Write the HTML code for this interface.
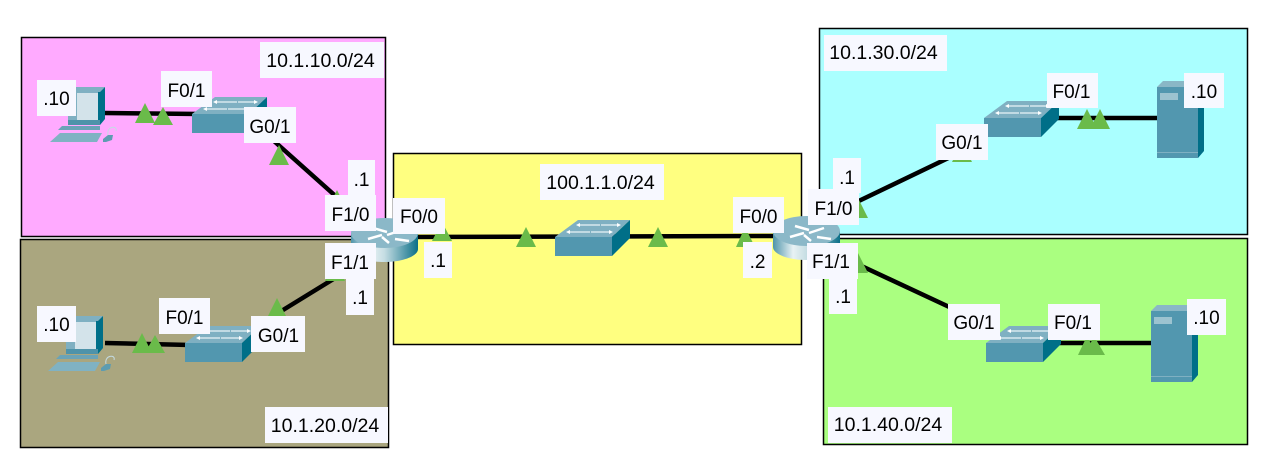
<!DOCTYPE html>
<html>
<head>
<meta charset="utf-8">
<style>
html,body{margin:0;padding:0;background:#fff;width:1270px;height:475px;overflow:hidden}
svg{display:block}
text{font-family:"Liberation Sans",Arial,sans-serif;font-size:19px;fill:#000;text-anchor:middle}
text.w{font-size:19.500px}
.z{stroke:#000;stroke-width:1.5}
.l{stroke:#000;stroke-width:4.5;fill:none}
.t{fill:#6abb4a}
.b{fill:#f7f8ff}
</style>
</head>
<body>
<svg width="1270" height="475" viewBox="0 0 1270 475" xmlns="http://www.w3.org/2000/svg">
<defs>
<linearGradient id="rg" x1="0" x2="1" y1="0" y2="0">
<stop offset="0" stop-color="#4f94aa"/><stop offset=".3" stop-color="#e8f2f4"/><stop offset=".5" stop-color="#c5dde3"/><stop offset="1" stop-color="#0b6f88"/>
</linearGradient>
<g id="sw">
<polygon points="0,17 23,0 75,0 57,17" fill="#7fb0c2"/>
<polygon points="0,17 57,17 57,36 0,36" fill="#5297af"/>
<polygon points="57,17 75,0 75,18 57,36" fill="#006f88"/>
<path d="M25,5H45M15,12H35M36,12H54M46,5H62" stroke="#d7e8ee" stroke-width="1.5" fill="none"/>
<path d="M25,3l-4,2 4,2zM62,3l4,2-4,2zM15,10l-4,2 4,2zM54,10l4,2-4,2z" fill="#fff"/>
</g>
<g id="pc">
<polygon points="18,6 24,0 55,0 50,5 50,36 18,36" fill="#7fb0c2"/>
<polygon points="50,5 55,0 55,32 50,38" fill="#006f88"/>
<rect x="27" y="6" width="21" height="27" fill="#d3e3ea"/>
<rect x="48" y="5" width="2" height="30" fill="#00708a"/>
<polygon points="18,33 50,33 50,38 18,38" fill="#4e93aa"/>
<polygon points="12,39 50,39 50,43 8,43" fill="#6aa3b7"/>
<polygon points="0,55 10,46 52,46 47,55" fill="#80b2c3"/>
<polygon points="53,52 58,48 63,48 62,53 56,55 53,55" fill="#5d9cb1"/>
<path d="M58,48C56,39 68,38 66,44" stroke="#c4dbe3" fill="none"/>
</g>
<g id="srv">
<polygon points="0,6 6,0 47,0 41,6" fill="#8ab7c6"/>
<rect x="0" y="6" width="41" height="71" fill="#5297af"/>
<polygon points="41,6 47,0 47,70 41,77" fill="#006f88"/>
<rect x="3" y="12" width="18" height="7" fill="#9cc3d0"/>
<rect x="0" y="71" width="41" height="1" fill="#7fb0c2"/>
</g>
<g id="rt">
<path d="M0,16V32C0,39 15,45 33,45C52,45 67,39 67,32V16Z" fill="url(#rg)"/>
<ellipse cx="33.500" cy="16" rx="33.500" ry="15" fill="#8bb8c8"/>
<path d="M17,22l14,-4M36,18l15,-5M22,11l14,4M38,26l-7,-6M44,22l14,2" stroke="#fff" stroke-width="2.500" fill="none"/>
</g>
</defs>

<rect class="z" x="21.500" y="37.500" width="364" height="199" fill="#ffaaff"/>
<rect class="z" x="20.500" y="239.500" width="368" height="208" fill="#aaa67f"/>
<rect class="z" x="393.500" y="153.500" width="408" height="191" fill="#ffff80"/>
<rect class="z" x="819.500" y="28.500" width="428" height="206" fill="#aaffff"/>
<rect class="z" x="823.500" y="238.500" width="424" height="206" fill="#aaff80"/>

<path class="l" d="M105,113L200,114M265,133L340,200M105,343L190,345M270,318L340,275M400,237L780,236M840,210L965,150M840,256L960,312M1050,118H1160M1050,343H1155"/>

<polygon class="t" points="145,103 135,123 155,123"/>
<polygon class="t" points="163,107 153,125 173,125"/>
<polygon class="t" points="279,145 269,165 289,165"/>
<polygon class="t" points="337,190 327,210 347,210"/>
<polygon class="t" points="142,333 132,353 152,353"/>
<polygon class="t" points="155,335 145,353 165,353"/>
<polygon class="t" points="277,298 267,318 287,318"/>
<polygon class="t" points="335,261 325,281 345,281"/>
<polygon class="t" points="442,222 432,241 452,241"/>
<polygon class="t" points="526,227 516,247 536,247"/>
<polygon class="t" points="658,227 648,247 668,247"/>
<polygon class="t" points="745,227 736,247 755,247"/>
<polygon class="t" points="858,198 848,218 868,218"/>
<polygon class="t" points="858,253 848,273 868,273"/>
<polygon class="t" points="962,142 952,162 972,162"/>
<polygon class="t" points="1087,109 1077,129 1097,129"/>
<polygon class="t" points="1100,109 1090,129 1110,129"/>
<polygon class="t" points="1087,336 1078,355 1097,355"/>
<polygon class="t" points="1094,336 1085,355 1105,355"/>

<use href="#sw" x="192" y="97"/>
<use href="#sw" x="185" y="326"/>
<use href="#sw" x="555" y="220"/>
<use href="#sw" x="984" y="101"/>
<use href="#sw" x="986" y="326"/>
<use href="#pc" x="50" y="87"/>
<use href="#pc" x="48" y="316"/>
<use href="#srv" x="1157" y="81"/>
<use href="#srv" x="1151" y="305"/>
<use href="#rt" x="351" y="217"/>
<use href="#rt" x="773" y="215"/>

<g>
<rect class="b" x="260" y="42" width="124" height="36"/><text class="w" x="320.500" y="67">10.1.10.0/24</text>
<rect class="b" x="37" y="80" width="39" height="36"/><text x="56.500" y="105">.10</text>
<rect class="b" x="161" y="71" width="51" height="36"/><text x="186.500" y="97">F0/1</text>
<rect class="b" x="244" y="107" width="52" height="36"/><text x="270" y="133">G0/1</text>
<rect class="b" x="348" y="160" width="27" height="35"/><text x="361.500" y="186">.1</text>
<rect class="b" x="325" y="195" width="51" height="36"/><text x="350.500" y="221">F1/0</text>
<rect class="b" x="393" y="198" width="52" height="36"/><text x="419" y="223">F0/0</text>
<rect class="b" x="424" y="242" width="28" height="36"/><text x="438" y="267">.1</text>
<rect class="b" x="325" y="243" width="51" height="36"/><text x="350" y="269">F1/1</text>
<rect class="b" x="346" y="279" width="28" height="36"/><text x="360" y="304">.1</text>
<rect class="b" x="37" y="306" width="39" height="36"/><text x="56.500" y="331">.10</text>
<rect class="b" x="159" y="298" width="51" height="36"/><text x="184.500" y="324">F0/1</text>
<rect class="b" x="251" y="316" width="54" height="36"/><text x="278.500" y="342">G0/1</text>
<rect class="b" x="265" y="407" width="123" height="36"/><text class="w" x="325" y="432">10.1.20.0/24</text>
<rect class="b" x="540" y="164" width="124" height="36"/><text class="w" x="600.500" y="189">100.1.1.0/24</text>
<rect class="b" x="733" y="197" width="51" height="36"/><text x="758.500" y="223">F0/0</text>
<rect class="b" x="743" y="242" width="29" height="36"/><text x="757.500" y="268">.2</text>
<rect class="b" x="833" y="158" width="28" height="35"/><text x="847" y="184">.1</text>
<rect class="b" x="808" y="189" width="51" height="36"/><text x="833.500" y="215">F1/0</text>
<rect class="b" x="807" y="243" width="51" height="36"/><text x="831" y="268">F1/1</text>
<rect class="b" x="829" y="278" width="28" height="36"/><text x="843" y="303">.1</text>
<rect class="b" x="824" y="35" width="123" height="36"/><text class="w" x="883.500" y="59">10.1.30.0/24</text>
<rect class="b" x="936" y="124" width="52" height="36"/><text x="962" y="149">G0/1</text>
<rect class="b" x="1047" y="73" width="51" height="35"/><text x="1071.500" y="98">F0/1</text>
<rect class="b" x="1184" y="73" width="40" height="35"/><text x="1204" y="98">.10</text>
<rect class="b" x="948" y="304" width="52" height="36"/><text x="974" y="329">G0/1</text>
<rect class="b" x="1048" y="304" width="52" height="36"/><text x="1073" y="329">F0/1</text>
<rect class="b" x="1187" y="299" width="39" height="36"/><text x="1206.500" y="324">.10</text>
<rect class="b" x="828" y="407" width="124" height="36"/><text class="w" x="888" y="431">10.1.40.0/24</text>
</g>
</svg>
</body>
</html>
